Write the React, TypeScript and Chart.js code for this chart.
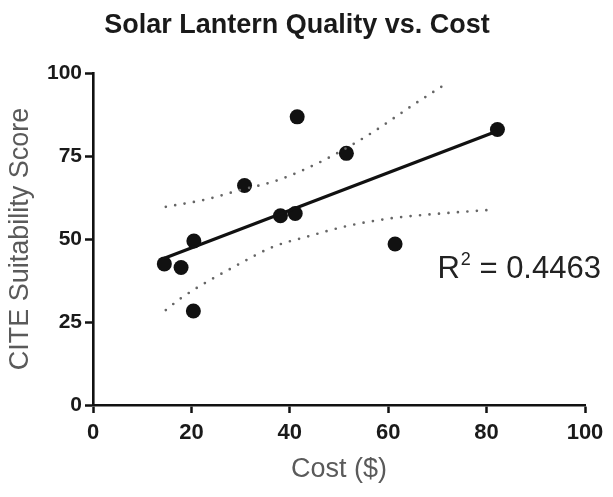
import { useEffect, useRef } from "react";
import { Chart, registerables } from "chart.js";

Chart.register(...registerables);

// Lantern cost ($) and CITE suitability score, one entry per lantern
const costs = [14.5, 17.9, 20.5, 20.4, 30.8, 38.1, 41.1, 41.5, 51.5, 61.4, 82.2];
const scores = [42.5, 41.4, 49.4, 28.3, 66.1, 57.0, 57.7, 86.8, 75.8, 48.5, 83.0];

// Linear fit end points
const fitX = [14.5, 82.2];
const fitY = [44.2, 82.5];

// 95% confidence band, upper and lower edges
const upperX = [14.8, 23.2, 30.0, 36.7, 43.5, 50.2, 57.0, 65.1, 72.0];
const upperY = [59.7, 62.0, 64.8, 67.3, 71.3, 76.3, 82.3, 90.4, 97.0];
const lowerX = [14.8, 17.8, 30.0, 36.7, 43.5, 51.6, 60.4, 69.2, 80.0];
const lowerY = [28.6, 32.1, 42.7, 47.7, 50.7, 53.9, 56.2, 57.5, 58.7];

const xTicks = [0, 20, 40, 60, 80, 100];
const yTicks = [0, 25, 50, 75, 100];

const chartTitle = "Solar Lantern Quality vs. Cost";
const xTitle = "Cost ($)";
const yTitle = "CITE Suitability Score";
const rSquared = "0.4463";
// where the R² note sits, in data units (left edge, baseline)
const rNoteAt = { x: 70, y: 38.3 };

const FONT = "'Liberation Sans', Arial, Helvetica, sans-serif";
const INK = "#111";
const BAND = "#666";

const pairs = (xs: number[], ys: number[]) => xs.map((x, i) => ({ x, y: ys[i] }));

const textPlugin = {
  id: "chartText",
  afterDraw(chart: any) {
    const { ctx, scales } = chart;
    ctx.save();
    // heading
    ctx.fillStyle = "#1a1a1a";
    ctx.font = `bold 27px ${FONT}`;
    ctx.textAlign = "center";
    ctx.textBaseline = "alphabetic";
    ctx.fillText(chartTitle, 297, 33);

    // R² note
    const px = scales.x.getPixelForValue(rNoteAt.x);
    const py = scales.y.getPixelForValue(rNoteAt.y);
    ctx.textAlign = "left";
    ctx.fillStyle = "#222";
    ctx.font = `31px ${FONT}`;
    ctx.fillText("R", px, py);
    let cx = px + ctx.measureText("R").width + 1;
    ctx.font = `18px ${FONT}`;
    ctx.fillText("2", cx, py - 13);
    cx += ctx.measureText("2").width;
    ctx.font = `31px ${FONT}`;
    ctx.fillText(" = " + rSquared, cx, py);
    ctx.restore();
  },
};

export default function App() {
  const canvasRef = useRef<HTMLCanvasElement | null>(null);

  useEffect(() => {
    const canvas = canvasRef.current;
    if (!canvas) return;

    const dotted = {
      borderColor: BAND,
      borderWidth: 2.7,
      borderDash: [0, 9.5],
      borderCapStyle: "round" as const,
      pointRadius: 0,
      cubicInterpolationMode: "monotone" as const,
      fill: false,
    };

    const chart = new Chart(canvas, {
      type: "scatter",
      data: {
        datasets: [
          {
            type: "line",
            label: "upper",
            data: pairs(upperX, upperY),
            ...dotted,
          } as any,
          {
            type: "line",
            label: "lower",
            data: pairs(lowerX, lowerY),
            ...dotted,
          } as any,
          {
            type: "line",
            label: "fit",
            data: pairs(fitX, fitY),
            borderColor: INK,
            borderWidth: 3.2,
            pointRadius: 0,
            fill: false,
          } as any,
          {
            label: "lanterns",
            data: pairs(costs, scores),
            backgroundColor: INK,
            borderColor: INK,
            pointRadius: 7.5,
            borderWidth: 0,
          },
        ],
      },
      options: {
        animation: false,
        responsive: false,
        maintainAspectRatio: false,
        layout: { padding: { left: 0, right: 28, top: 73, bottom: 0 } },
        plugins: {
          legend: { display: false },
          tooltip: { enabled: false },
          title: { display: false },
        },
        scales: {
          x: {
            type: "linear",
            min: 0,
            max: 100,
            afterBuildTicks: (s: any) => {
              s.ticks = xTicks.map((v) => ({ value: v }));
            },
            afterFit: (s: any) => {
              s.height = 92;
            },
            ticks: {
              color: "#1a1a1a",
              font: { family: FONT, size: 22, weight: "bold" },
              padding: 7,
              callback: (v: any) => String(v),
            },
            grid: {
              drawOnChartArea: false,
              drawTicks: true,
              tickLength: 8,
              tickWidth: 2.5,
              tickColor: INK,
            },
            border: { display: true, color: INK, width: 2.6 },
            title: {
              display: true,
              text: xTitle,
              color: "#5a5a5a",
              font: { family: FONT, size: 27 },
              padding: { top: 0, bottom: 11 },
            },
          },
          y: {
            type: "linear",
            min: 0,
            max: 100,
            afterBuildTicks: (s: any) => {
              s.ticks = yTicks.map((v) => ({ value: v }));
            },
            afterFit: (s: any) => {
              s.width = 93;
            },
            ticks: {
              color: "#1a1a1a",
              font: { family: FONT, size: 21, weight: "bold" },
              padding: 3,
              callback: (v: any) => String(v),
            },
            grid: {
              drawOnChartArea: false,
              drawTicks: true,
              tickLength: 8,
              tickWidth: 2.5,
              tickColor: INK,
            },
            border: { display: true, color: INK, width: 2.6 },
            title: {
              display: true,
              text: yTitle,
              color: "#5a5a5a",
              font: { family: FONT, size: 27 },
              padding: { top: 4, bottom: 0 },
            },
          },
        },
      },
      plugins: [textPlugin],
    });

    return () => chart.destroy();
  }, []);

  return (
    <div style={{ position: "fixed", left: 0, top: 0, width: 613, height: 497, background: "#fff" }}>
      <canvas ref={canvasRef} width={613} height={497} style={{ display: "block" }} />
    </div>
  );
}
